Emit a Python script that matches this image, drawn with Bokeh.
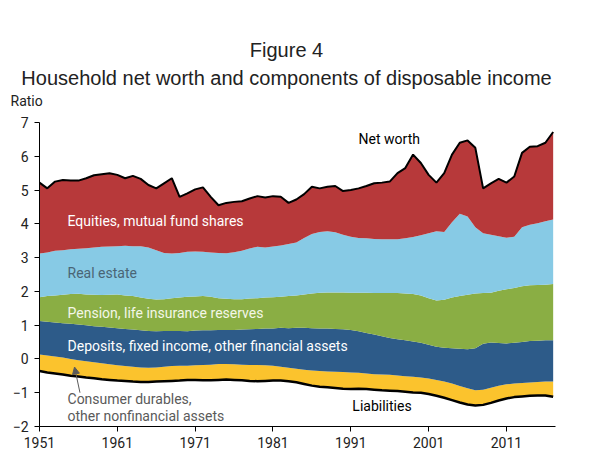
import numpy as np
from bokeh.plotting import figure
from bokeh.models import Range1d, Label, Arrow, NormalHead, FixedTicker, ColumnDataSource, LinearAxis
from bokeh.embed import file_html
from bokeh.resources import INLINE

years = list(range(1951, 2018))

liabilities = [
    0.36, 0.40, 0.43, 0.46, 0.50, 0.52, 0.55, 0.57, 0.60, 0.62,
    0.64, 0.65, 0.67, 0.68, 0.68, 0.67, 0.66, 0.65, 0.64, 0.62,
    0.62, 0.63, 0.63, 0.62, 0.61, 0.62, 0.63, 0.65, 0.66, 0.65,
    0.64, 0.64, 0.66, 0.69, 0.74, 0.79, 0.82, 0.84, 0.86, 0.88,
    0.89, 0.88, 0.89, 0.91, 0.93, 0.94, 0.95, 0.97, 0.99, 1.00,
    1.04, 1.09, 1.15, 1.22, 1.29, 1.35, 1.38, 1.36, 1.30, 1.23,
    1.17, 1.13, 1.11, 1.09, 1.08, 1.08, 1.12]

durables = [
    0.49, 0.50, 0.50, 0.50, 0.50, 0.48, 0.48, 0.47, 0.47, 0.46,
    0.45, 0.44, 0.44, 0.43, 0.42, 0.42, 0.43, 0.44, 0.44, 0.42,
    0.43, 0.45, 0.46, 0.47, 0.46, 0.46, 0.46, 0.47, 0.48, 0.46,
    0.44, 0.41, 0.40, 0.40, 0.42, 0.45, 0.46, 0.47, 0.48, 0.49,
    0.49, 0.47, 0.46, 0.46, 0.47, 0.47, 0.46, 0.46, 0.46, 0.45,
    0.46, 0.47, 0.48, 0.49, 0.49, 0.48, 0.45, 0.45, 0.45, 0.44,
    0.42, 0.40, 0.40, 0.39, 0.40, 0.41, 0.45]

deposits = [
    0.99, 1.00, 1.01, 1.02, 1.04, 1.06, 1.07, 1.07, 1.08, 1.09,
    1.10, 1.10, 1.10, 1.10, 1.09, 1.07, 1.06, 1.04, 1.03, 1.02,
    1.03, 1.03, 1.02, 1.01, 1.01, 1.02, 1.04, 1.06, 1.07, 1.09,
    1.10, 1.15, 1.17, 1.21, 1.24, 1.25, 1.26, 1.27, 1.27, 1.27,
    1.26, 1.23, 1.20, 1.17, 1.13, 1.09, 1.07, 1.06, 1.05, 1.03,
    1.00, 0.98, 1.00, 1.05, 1.10, 1.16, 1.25, 1.36, 1.34, 1.26,
    1.21, 1.21, 1.21, 1.23, 1.22, 1.22, 1.22]

pension = [
    0.71, 0.76, 0.80, 0.84, 0.88, 0.91, 0.91, 0.93, 0.94, 0.97,
    1.00, 0.99, 0.99, 0.97, 0.95, 0.94, 0.94, 0.97, 0.99, 1.02,
    1.01, 1.01, 0.99, 0.94, 0.92, 0.91, 0.90, 0.91, 0.91, 0.92,
    0.93, 0.92, 0.95, 0.96, 0.99, 1.03, 1.06, 1.07, 1.08, 1.09,
    1.10, 1.14, 1.19, 1.23, 1.28, 1.33, 1.37, 1.39, 1.40, 1.40,
    1.38, 1.37, 1.42, 1.50, 1.56, 1.61, 1.62, 1.50, 1.47, 1.55,
    1.60, 1.62, 1.65, 1.65, 1.65, 1.65, 1.67]

real_estate = [
    1.29, 1.29, 1.32, 1.32, 1.33, 1.33, 1.37, 1.40, 1.43, 1.43,
    1.43, 1.47, 1.48, 1.52, 1.52, 1.46, 1.37, 1.32, 1.32, 1.33,
    1.33, 1.31, 1.31, 1.34, 1.35, 1.39, 1.43, 1.48, 1.52, 1.48,
    1.50, 1.52, 1.54, 1.57, 1.67, 1.76, 1.80, 1.81, 1.78, 1.71,
    1.66, 1.62, 1.61, 1.60, 1.59, 1.59, 1.59, 1.63, 1.69, 1.78,
    1.92, 2.05, 2.01, 2.23, 2.44, 2.32, 1.96, 1.77, 1.72, 1.61,
    1.53, 1.52, 1.75, 1.79, 1.83, 1.88, 1.91]

equities = [
    2.10, 1.90, 2.05, 2.08, 2.03, 2.02, 2.07, 2.14, 2.15, 2.17,
    2.11, 2.00, 2.08, 1.99, 1.85, 1.83, 2.06, 2.23, 1.66, 1.73,
    1.84, 1.91, 1.65, 1.41, 1.49, 1.49, 1.47, 1.48, 1.50, 1.48,
    1.49, 1.44, 1.22, 1.27, 1.30, 1.40, 1.29, 1.32, 1.37, 1.29,
    1.38, 1.47, 1.55, 1.65, 1.68, 1.71, 1.96, 2.08, 2.44, 2.14,
    1.73, 1.44, 1.74, 2.00, 2.10, 2.25, 2.35, 1.33, 1.52, 1.70,
    1.63, 1.78, 2.20, 2.31, 2.28, 2.32, 2.59]

x_ticks = [1951, 1961, 1971, 1981, 1991, 2001, 2011]
y_ticks = [-2, -1, 0, 1, 2, 3, 4, 5, 6, 7]

components = [durables, deposits, pension, real_estate, equities]
colors = ["#FBC32D", "#2D5B89", "#8AAE44", "#87CAE5", "#B7393A"]

base = -np.array(liabilities)
bounds = [base]
for c in components:
    bounds.append(bounds[-1] + np.array(c))

data = {"x": years}
for i, b in enumerate(bounds):
    data[f"b{i}"] = b
src = ColumnDataSource(data)

# frame covers the whole canvas; axes are pinned with fixed_location
p = figure(width=608, height=472, output_backend="svg", toolbar_location=None,
           x_range=Range1d(1945.989, 2024.110), y_range=Range1d(-3.362, 10.612),
           x_axis_location=None, y_axis_location=None,
           min_border_left=0, min_border_right=0, min_border_top=0, min_border_bottom=0)
p.title.visible = False
p.outline_line_color = None
p.xgrid.visible = False
p.ygrid.visible = False
p.background_fill_color = "white"
p.border_fill_color = "white"

for i, col in enumerate(colors):
    p.varea(x="x", y1=f"b{i}", y2=f"b{i+1}", source=src, fill_color=col, fill_alpha=1.0)

p.line(x="x", y="b0", source=src, line_color="black", line_width=2.5)
p.line(x="x", y=f"b{len(colors)}", source=src, line_color="black", line_width=2)

xax = LinearAxis(fixed_location=-2, ticker=FixedTicker(ticks=x_ticks), bounds=(1951, 2017.3))
yax = LinearAxis(fixed_location=1951, ticker=FixedTicker(ticks=y_ticks), bounds=(-2, 7))
for ax in (xax, yax):
    ax.axis_line_color = "black"
    ax.axis_line_width = 1
    ax.major_tick_line_color = "black"
    ax.major_tick_in = 0
    ax.major_tick_out = 5
    ax.minor_tick_line_color = None
    ax.major_label_text_font = "Roboto"
    ax.major_label_text_font_size = "14px"
    ax.major_label_text_color = "#222222"
    ax.major_label_standoff = 6
p.add_layout(xax, "below")
p.add_layout(yax, "left")

def lab(x, y, text, size="14px", color="white", font="Roboto", align="left"):
    p.add_layout(Label(x=x, y=y, text=text, text_font=font, text_font_size=size,
                       text_color=color, text_align=align, text_baseline="middle"))

lab(1982.737, 9.132, "Figure 4", size="20px", color="#222222", font="Liberation Sans", align="center")
lab(1982.737, 8.332, "Household net worth and components of disposable income", size="20px",
    color="#222222", font="Liberation Sans", align="center")
lab(1947.274, 7.622, "Ratio", size="14px", color="#222222")

lab(1954.6, 4.08, "Equities, mutual fund shares", color="white")
lab(1954.6, 2.54, "Real estate", color="#4A6575")
lab(1954.6, 1.37, "Pension, life insurance reserves", color="#F4F7E8")
lab(1954.6, 0.38, "Deposits, fixed income, other financial assets", color="white")
lab(1954.6, -1.19, "Consumer durables,", color="#5A5A5A")
lab(1954.6, -1.69, "other nonfinancial assets", color="#5A5A5A")
lab(1992.0, 6.51, "Net worth", color="black")
lab(1991.2, -1.39, "Liabilities", color="black")

p.add_layout(Arrow(end=NormalHead(size=7, fill_color="#5A5A5A", line_color="#5A5A5A"),
                   x_start=1956.2, y_start=-1.0, x_end=1955.5, y_end=-0.24,
                   line_color="#5A5A5A", line_width=1))

open("out.html", "w").write(file_html(p, INLINE))
